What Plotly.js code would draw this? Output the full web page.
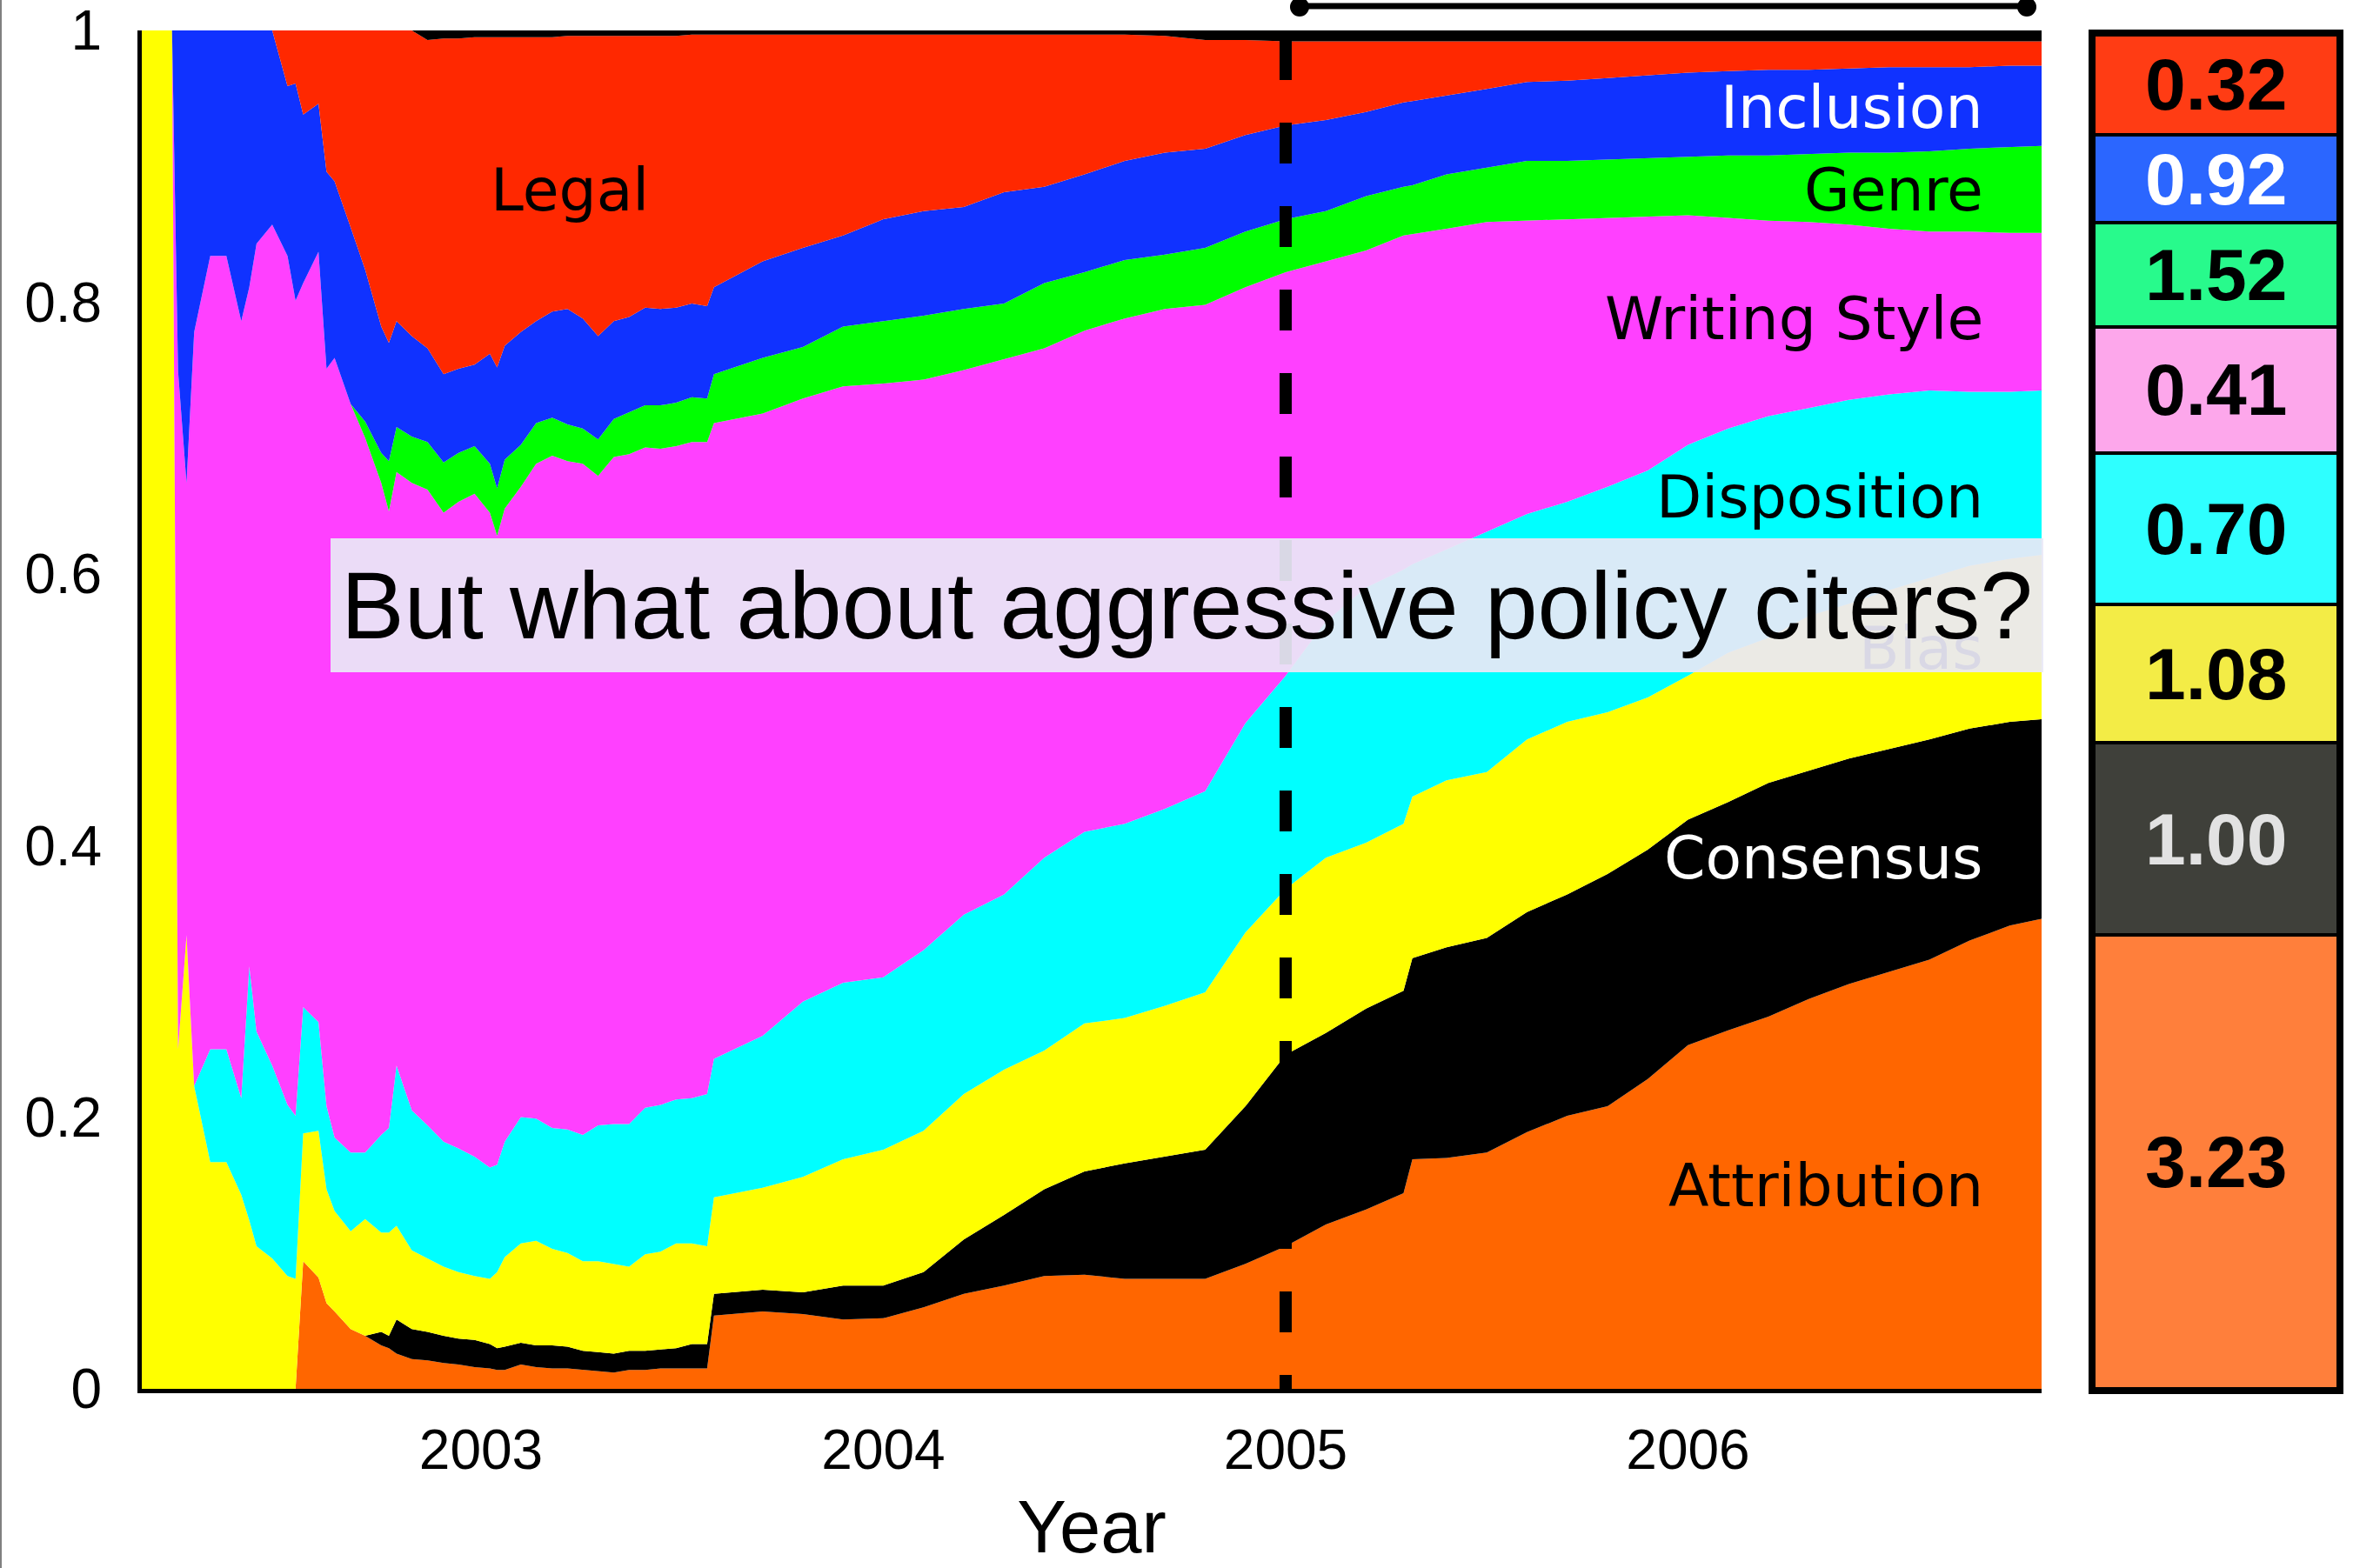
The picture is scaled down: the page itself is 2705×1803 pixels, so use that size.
<!DOCTYPE html>
<html><head><meta charset="utf-8">
<script src="https://cdn.plot.ly/plotly-3.0.1.min.js"></script>
<style>html,body{margin:0;padding:0;background:#fff}#chart{width:2705px;height:1803px}</style>
</head><body><div id="chart"></div>
<script>
// ---------- DATA ----------
const years = [2002.150,2002.232,2002.247,2002.268,2002.287,2002.327,2002.367,2002.404,2002.424,2002.442,
  2002.481,2002.519,2002.539,2002.558,2002.596,2002.616,2002.636,2002.676,2002.712,2002.752,
  2002.771,2002.790,2002.828,2002.867,2002.907,2002.944,2002.984,2003.022,2003.040,2003.059,
  2003.099,2003.137,2003.177,2003.215,2003.253,2003.291,2003.330,2003.368,2003.408,2003.446,
  2003.485,2003.524,2003.562,2003.579,2003.7,2003.8,2003.9,2004.0,2004.1,2004.2,
  2004.3,2004.4,2004.5,2004.6,2004.7,2004.8,2004.9,2005.0,2005.1,2005.2,
  2005.293,2005.315,2005.4,2005.5,2005.6,2005.7,2005.8,2005.9,2006.0,2006.1,
  2006.2,2006.3,2006.4,2006.5,2006.6,2006.7,2006.8,2006.879];

const attribution = [0,0,0,0,0,0,0,0,0,0, 0,0,0,.094,.082,.063,.057,.044,.039,.032,
  .030,.026,.022,.021,.019,.018,.016,.015,.014,.014, .018,.016,.015,.015,.014,.013,.012,.014,.014,.015,
  .015,.015,.015,.054,.057,.055,.051,.052,.060,.070, .076,.083,.084,.081,.081,.081,.092,.105,.121,.132,
  .144,.169,.170,.174,.189,.201,.208,.228,.253,.264, .274,.287,.298,.307,.316,.330,.341,.346];

const consensus = [0,0,0,0,0,0,0,0,0,0, 0,0,0,0,0,0,0,0,0,.010,
  .009,.025,.022,.021,.020,.019,.020,.018,.016,.017, .016,.016,.017,.016,.014,.014,.014,.014,.014,.014,
  .015,.018,.018,.016,.016,.016,.025,.024,.026,.040, .052,.064,.076,.085,.090,.095,.116,.141,.141,.148,
  .149,.148,.155,.158,.162,.163,.171,.169,.166,.168, .172,.168,.166,.164,.162,.156,.150,.147];

const bias = [1,1,.250,.334,.223,.167,.167,.143,.124,.105, .096,.083,.081,.094,.108,.084,.074,.072,.086,.073,
  .076,.069,.058,.054,.051,.049,.047,.048,.056,.066, .073,.077,.071,.069,.066,.067,.066,.062,.071,.072,
  .077,.074,.072,.071,.075,.085,.093,.100,.104,.107, .107,.102,.109,.107,.111,.116,.128,.122,.129,.122,
  .123,.119,.123,.122,.127,.127,.119,.112,.106,.110, .107,.114,.114,.117,.119,.120,.120,.121];

const disposition = [0,0,0,0,0,.083,.083,.071,.187,.158, .142,.126,.120,.093,.080,.061,.054,.058,.049,.072,
  .077,.118,.103,.098,.092,.091,.088,.082,.079,.085, .093,.090,.089,.091,.093,.100,.103,.105,.108,.108,
  .106,.107,.112,.102,.112,.129,.130,.127,.133,.132, .129,.142,.141,.143,.145,.148,.154,.157,.174,.188,
  .187,.171,.170,.177,.166,.162,.166,.167,.170,.165, .163,.153,.150,.144,.138,.128,.123,.121];

const writingStyle = [0,0,.499,.333,.555,.584,.584,.572,.500,.580, .619,.625,.600,.533,.567,.543,.574,.551,.526,.480,
  .454,.437,.462,.468,.463,.476,.488,.482,.463,.466, .464,.482,.495,.492,.494,.478,.491,.493,.486,.483,
  .481,.483,.480,.468,.458,.444,.439,.437,.420,.401, .394,.375,.369,.372,.368,.358,.321,.297,.265,.248,
  .246,.243,.236,.228,.216,.208,.198,.187,.169,.155, .144,.137,.129,.122,.117,.118,.117,.116];

const genre = [0,0,0,0,0,0,0,0,0,0, 0,0,0,0,0,0,0,0,.012,.022,
  .037,.033,.034,.035,.037,.036,.035,.036,.035,.036, .031,.030,.028,.027,.026,.027,.028,.031,.031,.032,
  .032,.033,.032,.036,.041,.038,.044,.046,.047,.045, .041,.048,.043,.043,.040,.042,.041,.039,.037,.040,
  .036,.036,.040,.040,.044,.043,.043,.043,.043,.046, .048,.050,.053,.056,.059,.061,.063,.064];

const inclusion = [0,0,.251,.333,.222,.166,.166,.214,.189,.157, .143,.125,.160,.124,.109,.145,.130,.130,.112,.093,
  .087,.078,.074,.069,.065,.062,.060,.081,.089,.084, .083,.075,.078,.085,.081,.076,.072,.070,.072,.071,
  .070,.069,.068,.064,.071,.073,.067,.075,.077,.075, .082,.071,.072,.073,.075,.073,.071,.069,.067,.062,
  .062,.062,.058,.058,.058,.059,.060,.061,.062,.062, .063,.062,.062,.063,.062,.060,.060,.059];

const legal = [0,0,0,0,0,0,0,0,0,0, 0,.041,.039,.062,.054,.104,.111,.145,.176,.218,
  .230,.214,.225,.227,.247,.243,.241,.233,.243,.227, .217,.209,.202,.201,.208,.221,.210,.207,.200,.201,
  .200,.198,.200,.186,.167,.157,.148,.136,.130,.127, .116,.112,.103,.093,.086,.080,.070,.062,.058,.052,
  .045,.044,.040,.035,.030,.029,.027,.025,.023,.022, .021,.021,.020,.019,.019,.019,.018,.018];

const other = [0,0,0,0,0,0,0,0,0,0, 0,0,0,0,0,0,0,0,0,0,
  0,0,0,.007,.006,.006,.005,.005,.005,.005, .005,.005,.005,.004,.004,.004,.004,.004,.004,.004,
  .004,.003,.003,.003,.003,.003,.003,.003,.003,.003, .003,.003,.003,.003,.004,.007,.007,.008,.008,.008,
  .008,.008,.008,.008,.008,.008,.008,.008,.008,.008, .008,.008,.008,.008,.008,.008,.008,.008];

const seriesNames = ['Attribution','Consensus','Bias','Disposition','Writing Style','Genre','Inclusion','Legal','Other'];

const yearTicks = [2003, 2004, 2005, 2006];
const yearTickText = ['2003', '2004', '2005', '2006'];
const shareTicks = [0, 0.2, 0.4, 0.6, 0.8, 1];
const shareTickText = ['0', '0.2', '0.4', '0.6', '0.8', '1'];

// side column, bottom to top
const sideLabels = ['3.23', '1.00', '1.08', '0.70', '0.41', '1.52', '0.92', '0.32'];
const sideShare  = [0.335, 0.142, 0.102, 0.112, 0.093, 0.077, 0.065, 0.074];

// ---------- STYLE ----------
const seriesColors = ['#FF6600','#000000','#FFFF00','#00FFFF','#FF40FF','#00FF00','#1032FF','#FF2800','#000000'];
const sideColors = ['#FF7F3B','#3F403A','#F3EC46','#2EFFFF','#FDA7EB','#28FA8C','#2B66FF','#FF3C14'];
const sideTextColors = ['#000','#E2E2E2','#000','#000','#000','#000','#FFF','#000'];

const W = 2705, H = 1803, ML = 163, MR = 12, MT = 35, MB = 206;
const plotW = W - ML - MR, plotH = H - MT - MB;
const px = x => (x - ML) / plotW;        // pixel x -> paper
const py = y => (H - MB - y) / plotH;    // pixel y -> paper

const seriesData = [attribution, consensus, bias, disposition, writingStyle, genre, inclusion, legal, other];
const traces = seriesData.map((vals, i) => ({
  type: 'scatter', mode: 'lines', x: years, y: vals, name: seriesNames[i],
  stackgroup: 'share', line: {width: 0, color: seriesColors[i]}, fillcolor: seriesColors[i],
  hoverinfo: 'skip', showlegend: false
}));

sideLabels.forEach((lab, i) => {
  traces.push({type: 'bar', x: [0], y: [sideShare[i]], xaxis: 'x2', yaxis: 'y2', width: 1,
    marker: {color: sideColors[i], line: {color: '#000', width: 4}}, hoverinfo: 'skip', showlegend: false});
});

const labelFont = (c) => ({family: 'DejaVu Sans', size: 68, color: c});
const annotations = [];
const labelRight = px(2282);
[['Inclusion', 124, '#FFF'], ['Genre', 219, '#000'], ['Writing Style', 367, '#000'],
 ['Disposition', 572, '#000'], ['Bias', 745, '#000'], ['Consensus', 986, '#FFF'],
 ['Attribution', 1363, '#000']].forEach(([t, y, c]) => {
  annotations.push({xref: 'paper', yref: 'paper', x: labelRight, y: py(y), xanchor: 'right', yanchor: 'middle',
    text: t, showarrow: false, font: labelFont(c)});
});
annotations.push({xref: 'paper', yref: 'paper', x: px(655), y: py(219), xanchor: 'center', yanchor: 'middle',
  text: 'Legal', showarrow: false, font: labelFont('#000')});

// overlay question box (drawn after labels so it covers "Bias")
annotations.push({xref: 'paper', yref: 'paper', x: px(1364.5), y: py(696), xanchor: 'center', yanchor: 'middle',
  width: 1969, height: 154, borderpad: 0, borderwidth: 0, bgcolor: 'rgba(233,232,246,0.93)',
  text: 'But what about aggressive policy citers?', showarrow: false,
  font: {family: 'Liberation Sans, Arial, sans-serif', size: 109, color: '#000'}});

// side column labels
let cum = 0;
sideLabels.forEach((lab, i) => {
  annotations.push({xref: 'x2', yref: 'y2', x: 0, y: cum + sideShare[i] / 2, xanchor: 'center', yanchor: 'middle',
    text: '<b>' + lab + '</b>', showarrow: false,
    font: {family: 'Liberation Sans, Arial, sans-serif', size: 84, color: sideTextColors[i]}});
  cum += sideShare[i];
});

const shapes = [
  // dashed marker at 2005
  {type: 'line', xref: 'x', yref: 'y', x0: 2005, x1: 2005, y0: (H - MB - 45) / plotH, y1: 0,
   line: {color: '#000', width: 14, dash: '47px,49px'}, layer: 'above'},
  // bracket line above the plot
  {type: 'line', xref: 'paper', yref: 'paper', x0: px(1494), x1: px(2330), y0: py(7), y1: py(7),
   line: {color: '#000', width: 7}},
  {type: 'circle', xref: 'paper', yref: 'paper', x0: px(1483), x1: px(1505), y0: py(19), y1: py(-3),
   fillcolor: '#000', line: {width: 0}},
  {type: 'circle', xref: 'paper', yref: 'paper', x0: px(2319), x1: px(2341), y0: py(19), y1: py(-3),
   fillcolor: '#000', line: {width: 0}},
  // thin grey border at the far left
  {type: 'line', xref: 'paper', yref: 'paper', x0: px(1), x1: px(1), y0: py(H), y1: py(0),
   line: {color: '#808080', width: 2}}
];

const tickFont = {family: 'Liberation Sans, Arial, sans-serif', size: 64, color: '#000'};
const layout = {
  width: W, height: H, margin: {l: ML, r: MR, t: MT, b: MB, pad: 0},
  paper_bgcolor: '#fff', plot_bgcolor: '#fff', showlegend: false, hovermode: false,
  barmode: 'stack', bargap: 0,
  xaxis: {domain: [0, px(2347)], range: [2002.1568, 2006.879], tickvals: yearTicks, ticktext: yearTickText,
    showgrid: false, zeroline: false, showline: true, linecolor: '#000', linewidth: 5, ticks: '',
    ticklabelstandoff: 10, tickfont: tickFont, ticklabeloverflow: 'allow',
    title: {text: 'Year', font: {family: 'Liberation Sans, Arial, sans-serif', size: 85, color: '#000'}, standoff: 30}},
  yaxis: {domain: [0, 1], range: [0, 1], tickvals: shareTicks, ticktext: shareTickText,
    showgrid: false, zeroline: false, showline: true, linecolor: '#000', linewidth: 5, ticks: '',
    ticklabelstandoff: 28, tickfont: tickFont, ticklabeloverflow: 'allow'},
  xaxis2: {domain: [px(2407), px(2688)], anchor: 'y2', range: [-0.5, 0.5], showticklabels: false,
    showgrid: false, zeroline: false, showline: true, mirror: true, linecolor: '#000', linewidth: 6, ticks: ''},
  yaxis2: {domain: [0, 0.997], anchor: 'x2', range: [0, 1], showticklabels: false,
    showgrid: false, zeroline: false, showline: true, mirror: true, linecolor: '#000', linewidth: 6, ticks: ''},
  annotations: annotations, shapes: shapes
};

Plotly.newPlot('chart', traces, layout, {staticPlot: true, displayModeBar: false});
</script></body></html>
